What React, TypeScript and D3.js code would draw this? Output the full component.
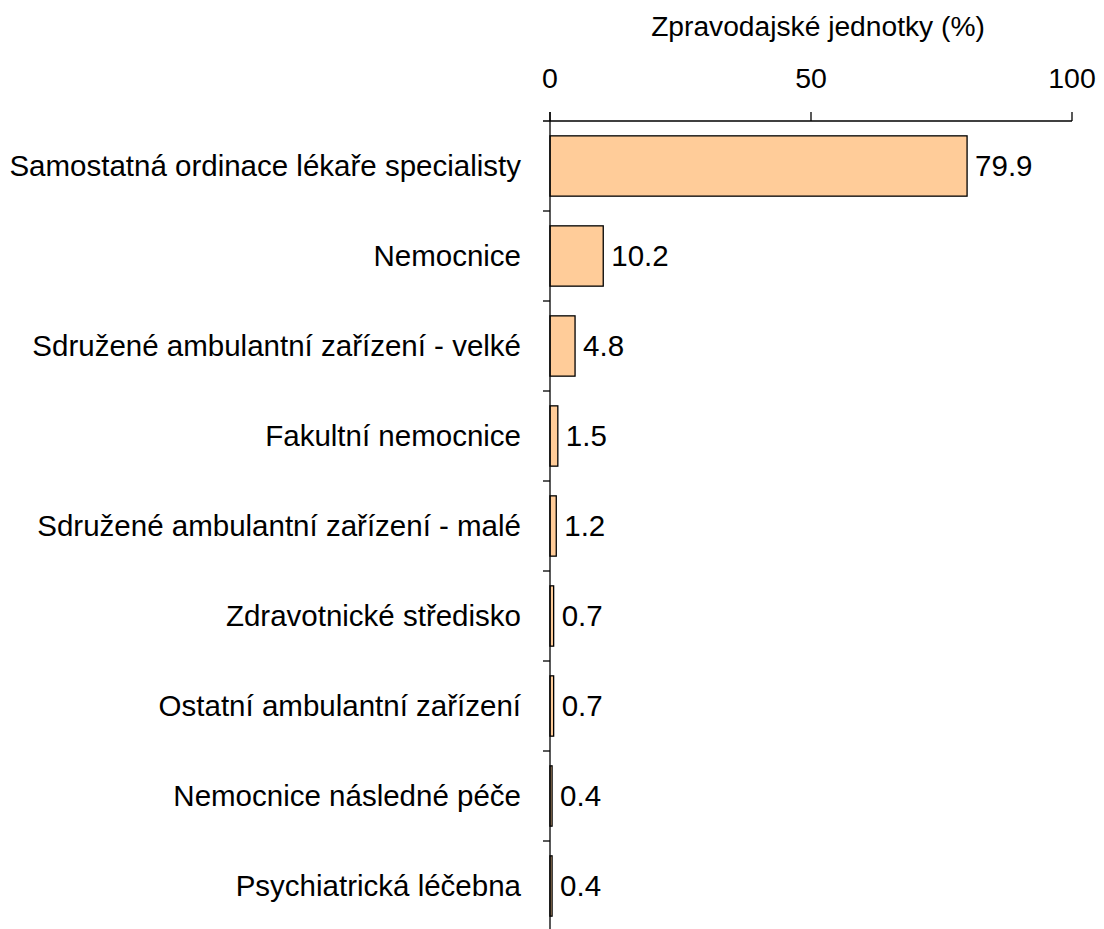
import { useEffect, useRef } from "react";
import * as d3 from "d3";

// kategorie a hodnoty (%)
const categories = [
  "Samostatná ordinace lékaře specialisty",
  "Nemocnice",
  "Sdružené ambulantní zařízení - velké",
  "Fakultní nemocnice",
  "Sdružené ambulantní zařízení - malé",
  "Zdravotnické středisko",
  "Ostatní ambulantní zařízení",
  "Nemocnice následné péče",
  "Psychiatrická léčebna",
];
const values = [79.9, 10.2, 4.8, 1.5, 1.2, 0.7, 0.7, 0.4, 0.4];
const xTicks = [0, 50, 100];
const axisTitle = "Zpravodajské jednotky (%)";

const W = 1104;
const H = 929;
const FONT = "'Liberation Sans', Arial, sans-serif";

const App = () => {
  const svgRef = useRef<SVGSVGElement | null>(null);

  useEffect(() => {
    const svg = d3.select(svgRef.current);
    svg.selectAll("*").remove();

    const left = 550;
    const right = 1072;
    const top = 121;
    const band = 90;

    const x = d3.scaleLinear().domain([0, 100]).range([left, right]);
    const y = d3
      .scaleBand<string>()
      .domain(categories)
      .range([top, top + band * categories.length])
      .paddingInner(0.33)
      .paddingOuter(0.165);

    // pruhy
    svg
      .selectAll(".bar")
      .data(values)
      .enter()
      .append("rect")
      .attr("class", "bar")
      .attr("x", x(0))
      .attr("y", (_, i) => y(categories[i])!)
      .attr("width", (d) => x(d) - x(0))
      .attr("height", y.bandwidth())
      .attr("fill", "#FFCC99")
      .attr("stroke", "#000")
      .attr("stroke-width", 1.3);

    // hodnoty
    svg
      .selectAll(".val")
      .data(values)
      .enter()
      .append("text")
      .attr("x", (d) => x(d) + 8)
      .attr("y", (_, i) => y(categories[i])! + y.bandwidth() / 2 - 1)
      .attr("dy", "0.36em")
      .style("font-family", FONT)
      .style("font-size", "29.5px")
      .attr("fill", "#000")
      .text((d) => d.toFixed(1));

    // osa x nahore
    const xAxis = svg.append("g").attr("transform", `translate(0,${top})`);
    xAxis
      .append("line")
      .attr("x1", left - 7)
      .attr("x2", right)
      .attr("y1", 0)
      .attr("y2", 0)
      .attr("stroke", "#000")
      .attr("stroke-width", 1.3);
    xTicks.forEach((t) => {
      xAxis
        .append("line")
        .attr("x1", x(t))
        .attr("x2", x(t))
        .attr("y1", 0)
        .attr("y2", -9)
        .attr("stroke", "#000")
        .attr("stroke-width", 1.3);
      xAxis
        .append("text")
        .attr("x", x(t))
        .attr("y", -43)
        .attr("dy", "0.36em")
        .attr("text-anchor", "middle")
        .style("font-family", FONT)
        .style("font-size", "28.5px")
        .text(t);
    });

    // osa y
    svg
      .append("line")
      .attr("x1", left)
      .attr("x2", left)
      .attr("y1", top - 9)
      .attr("y2", H)
      .attr("stroke", "#000")
      .attr("stroke-width", 1.3);
    categories.forEach((c, i) => {
      const y0 = top + band * (i + 1);
      svg
        .append("line")
        .attr("x1", left - 7)
        .attr("x2", left)
        .attr("y1", y0)
        .attr("y2", y0)
        .attr("stroke", "#000")
        .attr("stroke-width", 1.3);
      svg
        .append("text")
        .attr("x", left - 29)
        .attr("y", y(c)! + y.bandwidth() / 2 - 1)
        .attr("dy", "0.36em")
        .attr("text-anchor", "end")
        .style("font-family", FONT)
        .style("font-size", "29.5px")
        .text(c);
    });

    // titulek osy
    svg
      .append("text")
      .attr("x", (651 + 985) / 2)
      .attr("y", 26)
      .attr("dy", "0.36em")
      .attr("text-anchor", "middle")
      .style("font-family", FONT)
      .style("font-size", "28.2px")
      .text(axisTitle);
  }, []);

  return (
    <div style={{ position: "absolute", left: 0, top: 0 }}>
      <svg ref={svgRef} width={W} height={H} style={{ display: "block", background: "#fff" }} />
    </div>
  );
};

export default App;
